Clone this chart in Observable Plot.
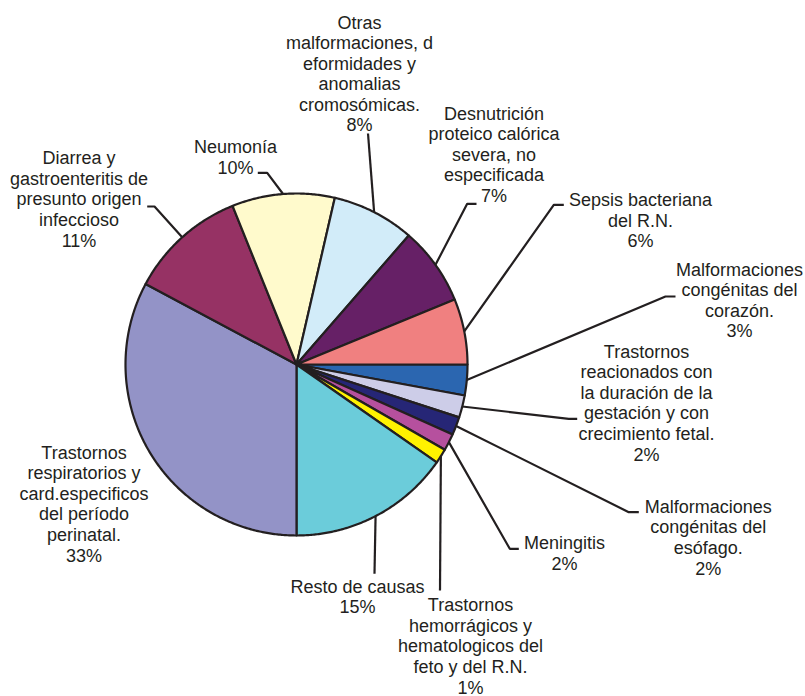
<!DOCTYPE html>
<html>
<head>
<meta charset="utf-8">
<script src="https://cdn.jsdelivr.net/npm/d3@7"></script>
<script src="https://cdn.jsdelivr.net/npm/@observablehq/plot@0.6"></script>
<style>
  html, body { margin: 0; padding: 0; background: #fff; }
  #chart svg { display: block; }
</style>
</head>
<body>
<div id="chart"></div>
<script>
// ---- Data (clockwise from 3 o'clock) ----
const categories = [
  "Malformaciones\ncongénitas del\ncorazón.",
  "Trastornos\nreacionados con\nla duración de la\ngestación y con\ncrecimiento fetal.",
  "Malformaciones\ncongénitas del\nesófago.",
  "Meningitis",
  "Trastornos\nhemorrágicos y\nhematologicos del\nfeto y del R.N.",
  "Resto de causas",
  "Trastornos\nrespiratorios y\ncard.especificos\ndel período\nperinatal.",
  "Diarrea y\ngastroenteritis de\npresunto origen\ninfeccioso",
  "Neumonía",
  "Otras\nmalformaciones, d\neformidades y\nanomalias\ncromosómicas.",
  "Desnutrición\nproteico calórica\nsevera, no\nespecificada",
  "Sepsis bacteriana\ndel R.N."
];
const values = [2.9, 2.1, 1.7, 1.6, 1.4, 15.3, 32.8, 11.1, 9.7, 7.8, 7.4, 6.2];
const percentLabels = ["3%", "2%", "2%", "2%", "1%", "15%", "33%", "11%", "10%", "8%", "7%", "6%"];

// ---- Styles ----
const palette = ["#2b66b0", "#cdcde8", "#262676", "#b6509e", "#fff200", "#6bccda",
                 "#9393c7", "#963264", "#fffacc", "#d2ecf9", "#662066", "#f08080"];
const ink = "#231f20";

// ---- Layout (pixel space) ----
const W = 805, H = 696;
const CX = 296, CY = 364, R = 171;
const labelX = [739, 646, 707.7, 564, 470, 357, 83.5, 78.5, 235, 359, 493.5, 640];
const labelY = [336.7, 460, 574, 569.3, 693, 612.7, 561, 246, 173.3, 130.7, 201.5, 246.7];
const leaderPath = [
  [[665, 296], [675, 296]],
  [[568.3, 418.3], [576.7, 418.3]],
  [[628.3, 511.7], [638.3, 511.7]],
  [[509.3, 548.3], [518.3, 548.3]],
  [[439.5, 590]],
  [[374, 573.3]],
  [],
  [[154, 206], [146.7, 206]],
  [[266.7, 172.3], [257.3, 172.3]],
  [[367.5, 133]],
  [[466.7, 203.3], [476, 203.3]],
  [[553.3, 204.3], [563.3, 204.3]]
];

// ---- Pie geometry via d3.pie ----
const arcs = d3.pie().sort(null).startAngle(Math.PI / 2).endAngle(Math.PI / 2 + 2 * Math.PI)(values);
const px = a => CX + R * Math.sin(a);
const py = a => CY - R * Math.cos(a);

const slicePts = [];
arcs.forEach((arc, i) => {
  const cat = categories[i];
  slicePts.push({cat, x: CX, y: CY});
  const n = Math.max(2, Math.ceil((arc.endAngle - arc.startAngle) / (Math.PI / 360)));
  for (let k = 0; k <= n; k++) {
    const a = arc.startAngle + (arc.endAngle - arc.startAngle) * k / n;
    slicePts.push({cat, x: px(a), y: py(a)});
  }
});

const leaderPts = [];
arcs.forEach((arc, i) => {
  const path = leaderPath[i];
  if (!path.length) return;
  const mid = (arc.startAngle + arc.endAngle) / 2;
  leaderPts.push({id: i, x: px(mid), y: py(mid)});
  path.forEach(([x, y]) => leaderPts.push({id: i, x, y}));
});

const labels = categories.map((c, i) => ({
  text: c + "\n" + percentLabels[i],
  x: labelX[i],
  y: labelY[i]
}));

const chart = Plot.plot({
  width: W,
  height: H,
  margin: 0,
  style: {background: "#fff", fontFamily: "'Liberation Sans', Arial, sans-serif"},
  x: {domain: [0, W], range: [0, W], axis: null},
  y: {domain: [0, H], range: [0, H], axis: null},
  color: {domain: categories, range: palette},
  marks: [
    Plot.line(leaderPts, {x: "x", y: "y", z: "id", stroke: ink, strokeWidth: 2.2,
      strokeLinejoin: "miter", strokeLinecap: "butt"}),
    Plot.line(slicePts, {x: "x", y: "y", fill: "cat", stroke: ink, strokeWidth: 2.2,
      curve: "linear-closed", strokeLinejoin: "round"}),
    Plot.text(labels, {x: "x", y: "y", text: "text", textAnchor: "middle", lineAnchor: "bottom",
      fontSize: 18, lineHeight: 1.14, fill: ink,
      fontFamily: "'Liberation Sans', Arial, sans-serif"})
  ]
});
document.getElementById("chart").appendChild(chart);
</script>
</body>
</html>
